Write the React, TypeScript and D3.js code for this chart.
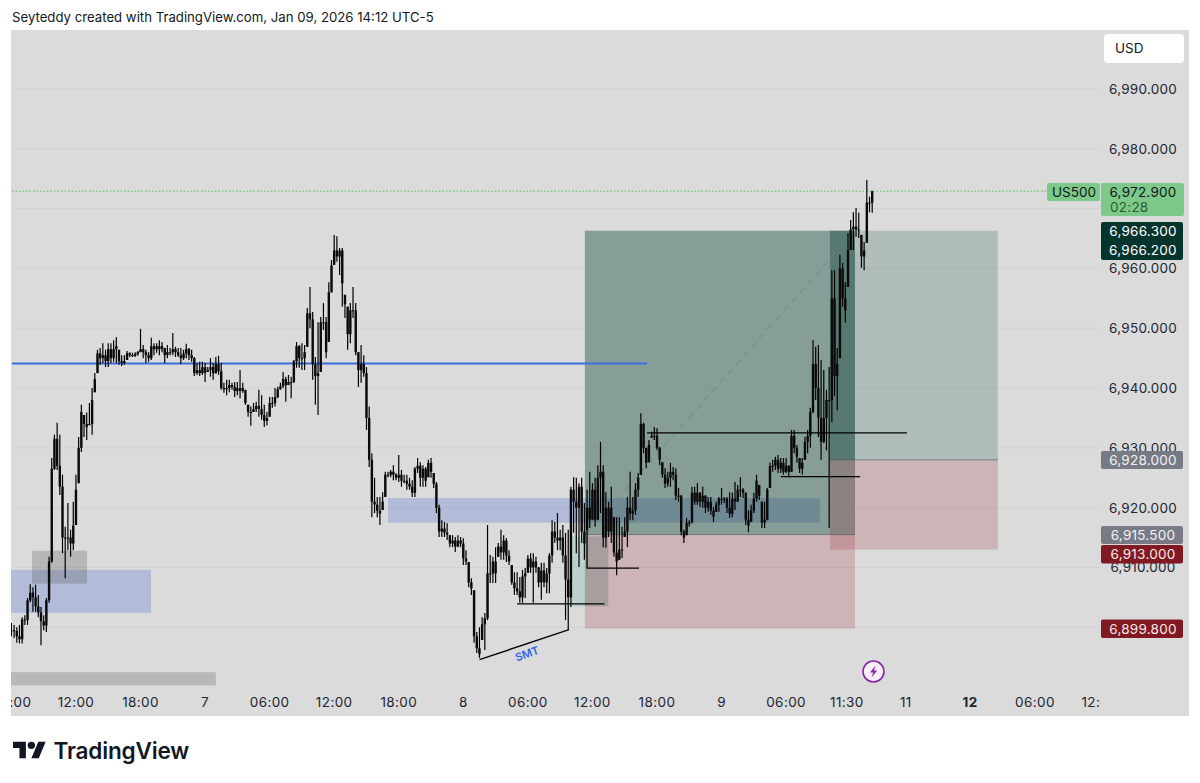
import React from "react";
import * as d3 from "d3";

const FONT = "Inter, 'Noto Sans', Roboto, sans-serif";

const priceTicks = [6990, 6980, 6970, 6960, 6950, 6940, 6930, 6920, 6910, 6900];
const priceTickLabels = ["6,990.000", "6,980.000", "", "6,960.000", "6,950.000", "6,940.000", "6,930.000", "6,920.000", "6,910.000", ""];
const timeTickBars = [0, 24, 48, 72, 96, 120, 144, 168, 192, 216, 240, 264, 288, 310.6, 332.5, 356.4, 380.5, 404.6];
const timeTickLabels = ["06:00", "12:00", "18:00", "7", "06:00", "12:00", "18:00", "8", "06:00", "12:00", "18:00", "9", "06:00", "11:30", "11", "12", "06:00", "12:00"];

const highs = [
6900.7,6900.4,6900,6900.4,6901.7,6902,6904.9,6907.2,6906.7,6907.1,
6905.4,6903.4,6902,6904.9,6911.8,6928.3,6932.2,6934.2,6932.2,6925.5,
6916.8,6920.8,6916.3,6921,6925.5,6931.8,6937.2,6935.5,6935.9,6937.5,
6940,6942.5,6946.4,6946.7,6947.5,6946.4,6947.5,6947.5,6948,6948.5,
6946.4,6945.5,6945.5,6946.2,6946,6945.9,6946,6946.2,6949.9,6947.2,
6946.4,6946,6948.4,6947.5,6947.5,6948,6947.7,6946.7,6947.2,6946.7,
6949.2,6946.9,6946.7,6946.7,6946.4,6947.4,6946.7,6946.4,6945.2,6944.2,
6944.4,6944.4,6944.2,6943.5,6945,6944.2,6945.2,6945.4,6944.2,6940.9,
6941.4,6941.4,6940.9,6941,6941,6943,6940.9,6939.7,6937.2,6936.9,
6937.5,6937.7,6939.7,6938.8,6937.2,6936,6938.5,6938.5,6940,6940.2,
6940.9,6942.7,6941.9,6942.2,6941.9,6944.7,6947.7,6947.2,6947.5,6947.2,
6953.4,6956.9,6952.7,6945.2,6951,6951.9,6954.2,6951.9,6957.7,6961.4,
6965.6,6965.4,6963.4,6963.4,6955.6,6953.6,6954.2,6956.9,6954.2,6946,
6947.2,6945.5,6943.5,6936.9,6929.1,6925,6921.8,6921.8,6922.6,6926,
6926,6926.3,6927.1,6925.8,6928.8,6926.3,6925.5,6925.5,6925,6924.6,
6926.8,6928.3,6927.6,6927.1,6926.8,6928,6928.3,6925.8,6924.3,6920.5,
6917.9,6917.6,6917.4,6915.4,6915.4,6915.1,6915.4,6915.1,6914.9,6912.9,
6910.9,6908.2,6906.2,6899.2,6900,6901.7,6902.4,6917.1,6912.1,6911.8,
6913.4,6914.1,6916.3,6915.4,6914.9,6912.9,6910.4,6909.2,6909.2,6908.4,
6909.6,6909.9,6912.1,6912.4,6912.4,6911.8,6910.1,6910.8,6910.8,6909.9,
6912.4,6917.9,6917.6,6919.1,6916.3,6917.1,6915.8,6916.3,6923.5,6925.1,
6925,6924.1,6925,6920.8,6923,6926,6924.1,6925,6927.1,6931,
6927.1,6922.6,6921,6923.5,6918.4,6918.4,6918.4,6916.8,6918.4,6921.8,
6926,6921.8,6924.1,6925.8,6935.8,6934.2,6930,6931.3,6932.7,6933.5,
6933.3,6930.2,6927.6,6926.6,6926,6927.5,6926.8,6926.6,6923.3,6922.1,
6916.3,6918.3,6917.9,6923.5,6923.5,6924.1,6922.6,6923.5,6922.1,6921.8,
6921.8,6920.1,6921,6921.8,6923.3,6921.8,6921.8,6922.6,6922.5,6924.3,
6923.8,6925.1,6923.3,6922.5,6919.6,6920.5,6922.5,6925.5,6923.8,6921,
6921,6923.3,6927.5,6928,6928.5,6928.8,6928.3,6928.3,6928.3,6927.1,
6933,6933,6930.5,6928.3,6928.3,6931.8,6933,6936.7,6948,6946.9,
6947.2,6944.7,6943,6939.7,6943.5,6959.7,6959.7,6946.7,6962.3,6960.9,
6957.7,6965.9,6968.1,6969.4,6970.1,6969.3,6965.6,6964.4,6974.8,6972,
6973];

const lows = [
6898.5,6898.2,6897.4,6897.3,6897.3,6900.4,6900.4,6904.2,6902.6,6902.6,
6901.7,6897,6899.5,6899.2,6904.1,6910.8,6926.3,6926.3,6922.1,6912.4,
6908.2,6912.9,6911.8,6912.9,6917.1,6924.1,6929.3,6931.8,6931.3,6933.8,
6932.2,6939.3,6942.5,6943.9,6944.2,6943.5,6943.5,6944.2,6944.4,6944.2,
6943.9,6943.7,6943.9,6944.7,6945.2,6945.2,6945.2,6945.4,6946,6945,
6944.2,6944.4,6944.7,6945.5,6945.9,6945.5,6946,6944.2,6945,6945.5,
6945.5,6945.2,6945.2,6944,6944.7,6945,6944.7,6944.4,6942,6942.2,
6942,6942.2,6941,6942.7,6941.9,6941.4,6942.4,6942.2,6939.7,6939.2,
6938.8,6939.3,6939.7,6938.5,6938.8,6938.3,6939.2,6937.2,6935.2,6933.7,
6936,6936,6935.2,6934.7,6933.5,6933.8,6935.2,6936.7,6936.9,6938.3,
6939.7,6940,6937.7,6940.5,6938.3,6940.9,6943.4,6943.4,6943,6943,
6946.9,6950,6941.4,6937.2,6935.5,6942.7,6949.7,6945,6947.7,6956,
6960.6,6961.1,6958.9,6953.6,6951.7,6946.4,6947.5,6951.7,6945.5,6940.2,
6940.9,6941.9,6933,6926.8,6918.4,6919.1,6918.4,6917.1,6919.6,6921.8,
6925.1,6925.1,6924.6,6924.6,6924.3,6923.5,6924.1,6923,6923,6921.8,
6921.8,6925.8,6923.5,6923.5,6923.5,6925.1,6925,6923.3,6919.1,6915.1,
6915.1,6915.1,6914.6,6913.4,6913.4,6912.6,6913.4,6913.4,6910.4,6910.4,
6906.7,6905.4,6897.4,6895.7,6894.9,6897.9,6896.2,6901.2,6907.4,6907.4,
6907.4,6911.8,6911.3,6911.3,6910.9,6910.4,6907.1,6905.4,6905.4,6904.1,
6904.1,6904.9,6909.1,6909.1,6904.1,6909.1,6906.7,6904.6,6906.7,6905.7,
6905.7,6910.8,6914.1,6912.9,6912.9,6910.8,6901.2,6899.6,6903.4,6915.8,
6912.4,6910.1,6914.1,6911.3,6916.3,6916.6,6917.9,6916.8,6917.9,6919.1,
6913.4,6913.3,6915.1,6914.1,6911.8,6908.7,6911.3,6911.6,6915.1,6913.4,
6917.9,6917.9,6918.8,6921.8,6925.5,6929.1,6926.6,6927.6,6931.7,6931.3,
6929.6,6927.1,6925,6923.3,6923.5,6923.5,6924.6,6921.3,6921,6915.4,
6914.1,6915.4,6916.8,6917.4,6920.5,6920.5,6920.1,6920,6919.1,6919.3,
6918.8,6917.6,6919.3,6919.3,6920.5,6920.8,6919.1,6918.3,6918.4,6919.6,
6921,6921.8,6921.6,6917.1,6915.9,6917.6,6919.1,6921,6921.3,6916.6,
6916.6,6917.9,6923.3,6926,6926.3,6925.8,6925.8,6925.5,6925.8,6925.1,
6926,6929.1,6927.5,6925.8,6925.5,6928,6929.1,6930,6935.8,6938,
6931.8,6928,6930.8,6929.6,6916.6,6934.3,6938.7,6936.3,6945,6953.6,
6950.9,6956.9,6963.1,6963.1,6965.3,6965.1,6960.1,6959.7,6964.3,6969.4,
6969.3];

const closes = [
6899.5,6899.4,6898.5,6898,6901.3,6901.2,6904.5,6905.8,6905,6903.5,
6902.5,6901,6900.3,6904.5,6911,6926.5,6931.5,6927,6923.5,6915,
6915,6915,6914,6917,6923,6930,6936,6934,6933.5,6934,
6938,6941.5,6945.8,6945,6945.5,6944.5,6946.5,6945,6946.5,6947,
6944.5,6944.2,6944.5,6945.8,6945.5,6945.4,6945.7,6946,6946.5,6946,
6945.5,6945,6947,6946.5,6947,6946.5,6947,6945.5,6946,6946,
6946.5,6946,6945.5,6945,6945.8,6946.5,6945.5,6945,6942.5,6943,
6942.5,6943.5,6942.5,6943,6943.5,6942.5,6944,6942.8,6940,6939.8,
6940,6940.5,6940.2,6939.5,6940,6939.5,6940,6937.5,6936,6936,
6936.5,6937,6936.5,6935.5,6934.5,6935,6937.5,6937.5,6938.5,6939.8,
6940.3,6941.5,6940.5,6941,6941,6944.5,6947,6945,6945,6946,
6952.5,6951.5,6944,6942,6942.5,6951,6951,6946,6956,6960.5,
6963,6962,6963,6957.5,6954,6949,6953,6953,6946,6943,
6944,6942.5,6935,6928,6921,6920.5,6919.5,6919,6921,6925.5,
6925.5,6926,6925.5,6925,6925.5,6924.5,6924.5,6924,6923.5,6922.5,
6926.5,6927,6925,6926.5,6924.5,6927.5,6926,6924,6920,6916,
6916.5,6915.8,6915.5,6914,6914.5,6913.5,6914.5,6914,6911.5,6911,
6907.5,6906.5,6898.5,6896.5,6895.5,6900.5,6901.5,6909,6909,6911,
6909,6913.5,6912.5,6914.5,6912,6911,6907.5,6906.5,6906,6905,
6908.5,6909,6911.5,6910,6911,6910,6907.5,6909.5,6907.5,6909,
6912,6916,6915,6914.5,6915,6912,6908,6905,6923,6921,
6920,6923.5,6916,6914,6920,6918,6923,6918,6925,6926,
6915,6920,6916,6920,6912.5,6911,6913,6913,6916,6920,
6919,6919.5,6923,6925,6934,6930,6927.5,6930.5,6932,6932,
6930,6928,6925.5,6924,6925,6926,6925.5,6922,6922,6916,
6915,6917.5,6917.5,6922.5,6921,6922.5,6921,6922,6920,6921,
6919.5,6918.5,6920.5,6921.5,6921.5,6921.5,6920,6919,6921.5,6921,
6923,6923,6922.5,6918,6917,6919.5,6921.5,6924.5,6922,6917.5,
6918,6923,6927,6927,6928,6926.5,6927.5,6926,6927,6926,
6932,6930,6928.5,6926.5,6927.5,6931,6932,6936,6944,6940,
6935,6931,6935,6938,6938,6955,6942,6944,6960,6955,
6953,6963,6966.5,6967,6966.5,6966.5,6962,6963,6971,6971,
6972.9];

const REF_LINE_PRICE = 6944.1;
const dottedLastPrice = 6972.9;

const App = () => {
  const x = d3.scaleLinear().domain([0, 320]).range([11.4, 872.2]);
  const y = d3.scaleLinear().domain([6900, 6990]).range([627.3, 89]);
  const opens = closes.map((c, i) => {
    const prev = i === 0 ? c : closes[i - 1];
    return Math.min(highs[i], Math.max(lows[i], prev));
  });
  const Rect = ({ b0, b1, p0, p1, fill }: any) => (
    <rect x={x(b0)} width={x(b1) - x(b0)} y={y(p0)} height={y(p1) - y(p0)} fill={fill} />
  );
  const Tag = ({ top, h, fill, label, color }: any) => (
    <g>
      <rect x={1101} y={top} width={82} height={h} rx={2} fill={fill} />
      <text x={1143} y={top + h / 2 + 4.8} textAnchor="middle" fontSize={13.5} fill={color} letterSpacing={0.25}>{label}</text>
    </g>
  );
  const dashEntry: [number, number] = [213.2, 6915.4];
  const dashTarget: [number, number] = [313.6, 6966.3];
  return (
    <svg width={1200} height={783} style={{ position: "absolute", left: 0, top: 0, display: "block", fontFamily: FONT }}>
      <defs>
        <clipPath id="plot"><rect x={11} y={30} width={1090} height={686} /></clipPath>
      </defs>
      <rect width={1200} height={783} fill="#ffffff" />
      <text x={12} y={21.5} fontSize={13.2} fill="#131722">Seyteddy created with TradingView.com, Jan 09, 2026 14:12 UTC-5</text>
      <rect x={11} y={30} width={1178} height={686} fill="#dbdbdb" />

      {priceTicks.map((p) => (
        <line key={p} x1={12} x2={1100} y1={y(p)} y2={y(p)} stroke="#d2d2d2" strokeWidth={1} />
      ))}
      <g clipPath="url(#plot)">
        {/* zones */}
        <Rect b0={-1} b1={51.9} p0={6909.6} p1={6902.4} fill="rgba(55,90,205,0.25)" />
        <Rect b0={140} b1={300.6} p0={6921.6} p1={6917.5} fill="rgba(55,90,205,0.25)" />
        <Rect b0={7.7} b1={28.1} p0={6912.8} p1={6907.3} fill="rgba(90,90,90,0.28)" />
        <Rect b0={-1} b1={76} p0={6892.5} p1={6890.3} fill="#b8b8b8" />
        {/* long position tools */}
        <Rect b0={213.2} b1={313.6} p0={6966.3} p1={6915.5} fill="rgba(10,65,50,0.4)" />
        <Rect b0={213.2} b1={313.6} p0={6915.5} p1={6899.8} fill="rgba(150,30,40,0.2)" />
        <Rect b0={304.3} b1={366.7} p0={6966.3} p1={6928} fill="rgba(10,70,60,0.2)" />
        <Rect b0={304.3} b1={313.6} p0={6966.3} p1={6928} fill="rgba(0,50,40,0.2)" />
        <Rect b0={304.3} b1={366.7} p0={6928} p1={6913} fill="rgba(150,30,40,0.2)" />
        <Rect b0={207.7} b1={213.2} p0={6915.2} p1={6903.5} fill="rgba(90,180,170,0.25)" />
        <Rect b0={213.2} b1={221.9} p0={6915.2} p1={6903.5} fill="rgba(80,110,100,0.3)" />
        <line x1={x(213.2)} x2={x(313.6)} y1={y(6915.5)} y2={y(6915.5)} stroke="rgba(70,85,90,0.6)" strokeWidth={1} />
        <line x1={x(304.3)} x2={x(366.7)} y1={y(6928)} y2={y(6928)} stroke="rgba(70,85,90,0.6)" strokeWidth={1} />
        <line x1={x(dashEntry[0])} y1={y(dashEntry[1])} x2={x(dashTarget[0])} y2={y(dashTarget[1])} stroke="#6f8580" strokeWidth={1} strokeDasharray="6 6" />
        {/* horizontal reference */}
        <line x1={12} x2={x(236.3)} y1={y(REF_LINE_PRICE)} y2={y(REF_LINE_PRICE)} stroke="#3a6ee0" strokeWidth={2} />
        <line x1={12} x2={1100} y1={y(dottedLastPrice)} y2={y(dottedLastPrice)} stroke="#7ccb8a" strokeWidth={1.6} strokeDasharray="1.5 2" />
        {/* candles */}
        {closes.map((c, i) => (
          <g key={i}>
            <line x1={x(i)} x2={x(i)} y1={y(highs[i])} y2={y(lows[i])} stroke="#000" strokeWidth={1.2} />
            <rect x={x(i) - 1.2} width={2.4} y={y(Math.max(opens[i], c))} height={Math.max(1, Math.abs(y(opens[i]) - y(c)))} fill="#0a0a0a" />
          </g>
        ))}
        {/* drawings */}
        <line x1={x(236.3)} x2={x(332.9)} y1={y(6932.5)} y2={y(6932.5)} stroke="#000" strokeWidth={1.3} />
        <line x1={x(286)} x2={x(315.5)} y1={y(6925.2)} y2={y(6925.2)} stroke="#000" strokeWidth={1.3} />
        <polyline points={`${x(214)},${y(6919.5)} ${x(214)},${y(6909.9)} ${x(233.3)},${y(6909.9)}`} fill="none" stroke="#000" strokeWidth={1.3} />
        <line x1={x(188)} x2={x(220.5)} y1={y(6903.9)} y2={y(6903.9)} stroke="#000" strokeWidth={1.3} />
        <line x1={x(174)} x2={x(207.3)} y1={y(6894.6)} y2={y(6899.6)} stroke="#000" strokeWidth={1.4} />
        <text transform={`translate(${x(191.7)},${y(6895.6)}) rotate(-19)`} y={4} textAnchor="middle" fontSize={11} fontWeight={600} fill="#2f66e8">SMT</text>
      </g>

      {/* price axis */}
      {priceTicks.map((p, i) => priceTickLabels[i] && (
        <text key={p} x={1143} y={y(p) + 5} textAnchor="middle" fontSize={13.5} fill="#222631" letterSpacing={0.25}>{priceTickLabels[i]}</text>
      ))}
      <rect x={1047} y={183} width={53} height={18} rx={2} fill="#7cc98a" />
      <text x={1074} y={197} textAnchor="middle" fontSize={13.5} fill="#131722">US500</text>
      <rect x={1101} y={183} width={83} height={33} rx={2} fill="#7cc98a" />
      <text x={1143} y={197} textAnchor="middle" fontSize={13.5} fill="#131722" letterSpacing={0.25}>6,972.900</text>
      <text x={1110} y={212} fontSize={13.5} fill="#2a5a38" letterSpacing={0.25}>02:28</text>
      <rect x={1101} y={222} width={82} height={38} rx={2} fill="#06352e" />
      <text x={1143} y={236} textAnchor="middle" fontSize={13.5} fill="#ffffff" letterSpacing={0.25}>6,966.300</text>
      <text x={1143} y={255} textAnchor="middle" fontSize={13.5} fill="#ffffff" letterSpacing={0.25}>6,966.200</text>
      <Tag top={451} h={18} fill="#787b86" color="#f2f2f2" label="6,928.000" />
      <Tag top={526} h={18} fill="#787b86" color="#f2f2f2" label="6,915.500" />
      <Tag top={545} h={18.5} fill="#801922" color="#fbe9e9" label="6,913.000" />
      <Tag top={619.5} h={18.5} fill="#801922" color="#fbe9e9" label="6,899.800" />
      <rect x={1104} y={34} width={80} height={29} rx={4} fill="#ffffff" />
      <text x={1115} y={53} fontSize={13.5} fill="#131722">USD</text>

      {/* time axis */}
      <g clipPath="url(#plot)">
        {timeTickLabels.map((t, i) => (
          <text key={i} x={x(timeTickBars[i])} y={707} textAnchor="middle" fontSize={13.5} fontWeight={t === "12" && i === 15 ? 700 : 400} fill="#222631" letterSpacing={0.4}>{t}</text>
        ))}
      </g>

      {/* lightning marker */}
      <circle cx={873.5} cy={671.5} r={10.5} fill="#f7eef8" stroke="#8e24aa" strokeWidth={1.6} />
      <path d="M875.5 665.5 L870 672.5 L873.2 672.5 L871.5 677.5 L877.2 670.5 L874 670.5 Z" fill="#8e24aa" />

      {/* logo */}
      <g transform="translate(13,738) scale(0.92)" fill="#131722">
        <path d="M14 22H7V11H0V4h14v18zM28 22h-8l7.5-18h8L28 22z" />
        <circle cx={20} cy={8} r={4} />
      </g>
      <text x={53.5} y={758.5} fontSize={22.6} fontWeight={600} fill="#131722" letterSpacing={-0.2}>TradingView</text>
    </svg>
  );
};

export default App;
